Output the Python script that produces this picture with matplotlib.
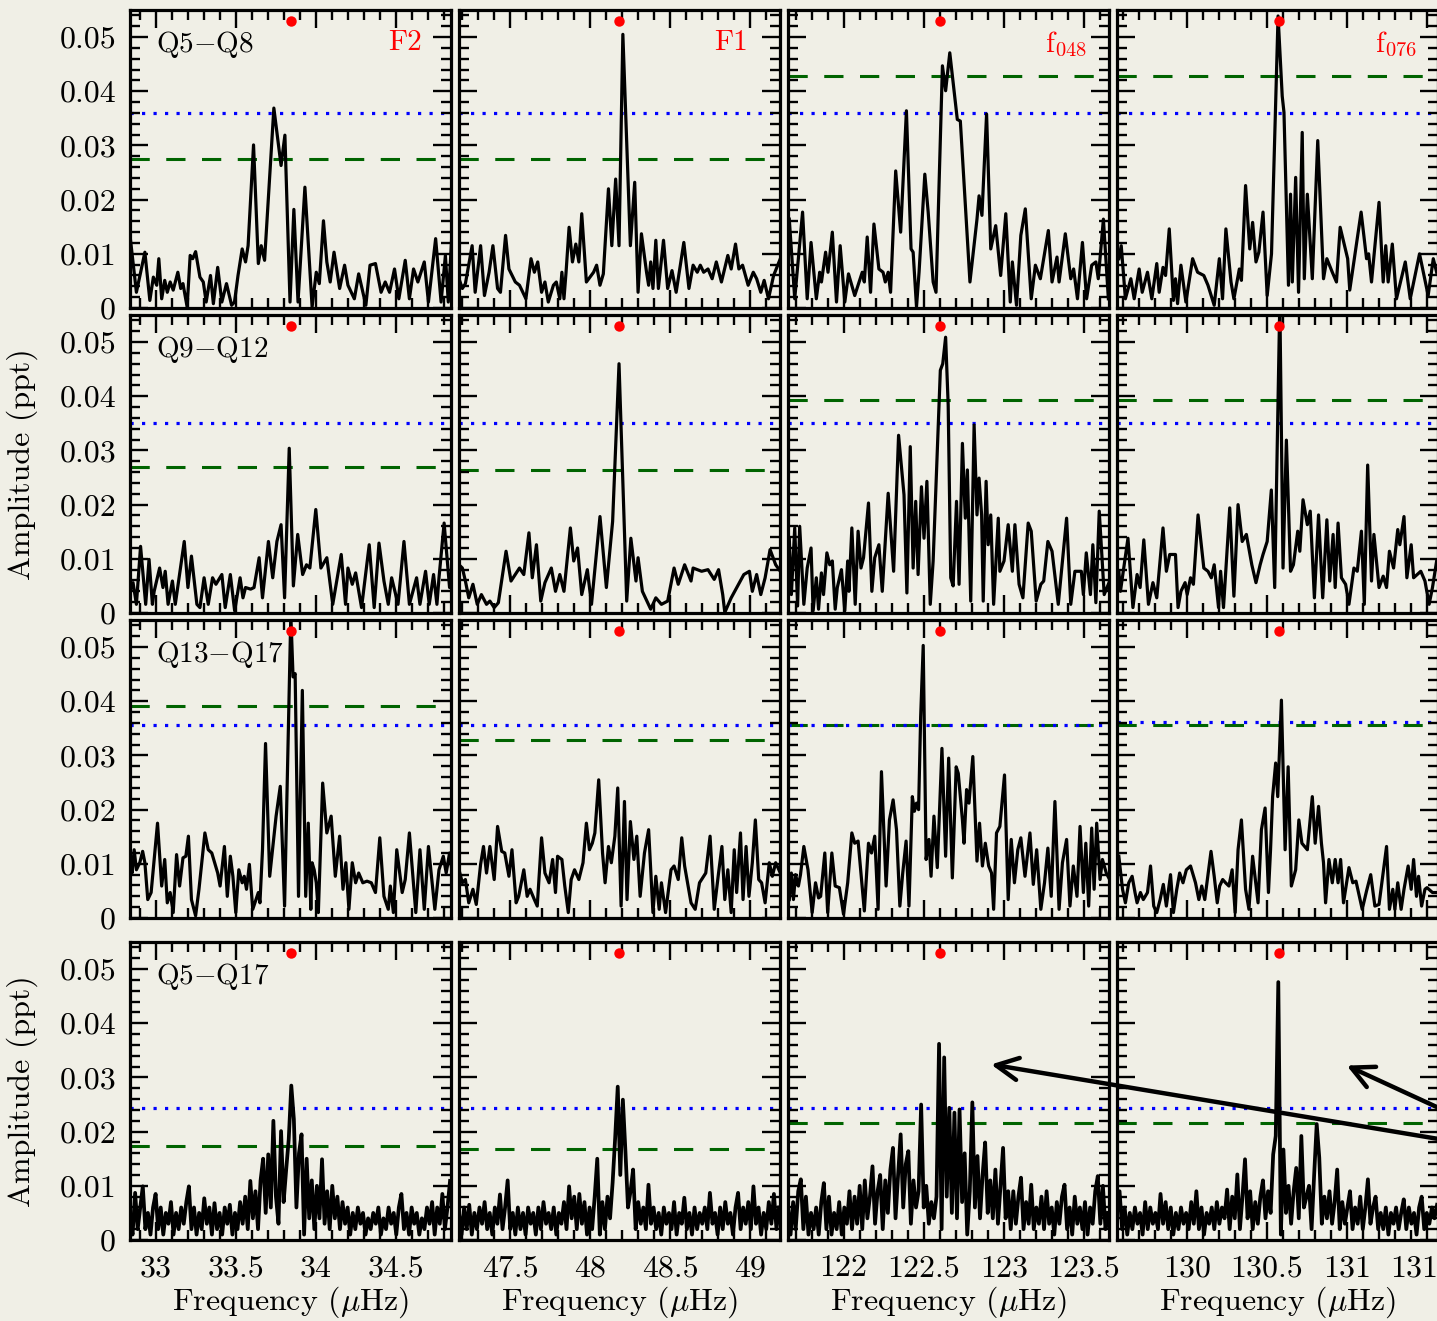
import numpy as np
import matplotlib
matplotlib.use("Agg")
import matplotlib.pyplot as plt
from matplotlib.ticker import MultipleLocator, FuncFormatter
from matplotlib.patches import ConnectionPatch

plt.rcParams.update({
    "font.family": "cmr10",
    "mathtext.fontset": "cm",
    "axes.unicode_minus": False,
    "axes.formatter.use_mathtext": True,
})

# ---------------------------------------------------------------- data
# amplitude spectra (frequency in microHz, amplitude in ppt) around each mode
F2_Q5Q8 = [(32.840, 0.0134), (32.880, 0.0029), (32.933, 0.0103), (32.964, 0.0014), (32.986, 0.0057),
           (33.007, 0.0042), (33.020, 0.0091), (33.038, 0.0017), (33.057, 0.0051), (33.073, 0.0029),
           (33.091, 0.0048), (33.110, 0.0033), (33.139, 0.0066), (33.157, 0.0036), (33.171, 0.0045),
           (33.197, 0.0002), (33.216, 0.0097), (33.232, 0.0091), (33.250, 0.0104), (33.277, 0.0057),
           (33.298, 0.0048), (33.316, 0.0011), (33.343, 0.0060), (33.361, 0.0008), (33.388, 0.0075),
           (33.414, 0.0011), (33.443, 0.0045), (33.475, 0.0005), (33.493, 0.0011), (33.515, 0.0060),
           (33.541, 0.0109), (33.562, 0.0085), (33.578, 0.0115), (33.612, 0.0301), (33.642, 0.0082),
           (33.660, 0.0115), (33.681, 0.0088), (33.739, 0.0369), (33.784, 0.0263), (33.808, 0.0319),
           (33.840, 0.0011), (33.864, 0.0182), (33.890, 0.0011), (33.933, 0.0223), (33.978, 0.0002),
           (34.004, 0.0066), (34.023, 0.0045), (34.049, 0.0161), (34.070, 0.0085), (34.091, 0.0048),
           (34.115, 0.0103), (34.150, 0.0036), (34.181, 0.0079), (34.202, 0.0042), (34.242, 0.0017),
           (34.269, 0.0063), (34.314, 0.0005), (34.340, 0.0079), (34.374, 0.0082), (34.409, 0.0029),
           (34.435, 0.0048), (34.462, 0.0029), (34.493, 0.0072), (34.520, 0.0017), (34.560, 0.0088),
           (34.586, 0.0017), (34.612, 0.0072), (34.639, 0.0048), (34.679, 0.0085), (34.705, 0.0011),
           (34.750, 0.0128), (34.784, 0.0011), (34.811, 0.0097), (34.829, 0.0011), (34.851, 0.0134)]

F1_Q5Q8 = [(47.180, 0.0054), (47.201, 0.0036), (47.220, 0.0045), (47.262, 0.0115), (47.281, 0.0029),
           (47.315, 0.0115), (47.339, 0.0023), (47.368, 0.0066), (47.392, 0.0115), (47.421, 0.0036),
           (47.439, 0.0029), (47.471, 0.0134), (47.492, 0.0072), (47.532, 0.0048), (47.558, 0.0042),
           (47.579, 0.0029), (47.598, 0.0017), (47.630, 0.0091), (47.651, 0.0066), (47.672, 0.0085),
           (47.696, 0.0029), (47.717, 0.0048), (47.738, 0.0011), (47.770, 0.0042), (47.788, 0.0048),
           (47.810, 0.0017), (47.823, 0.0066), (47.836, 0.0017), (47.849, 0.0066), (47.868, 0.0149),
           (47.889, 0.0085), (47.910, 0.0118), (47.929, 0.0085), (47.947, 0.0174), (47.976, 0.0048),
           (48.021, 0.0066), (48.040, 0.0079), (48.061, 0.0042), (48.082, 0.0063), (48.114, 0.0220),
           (48.135, 0.0115), (48.159, 0.0238), (48.180, 0.0115), (48.204, 0.0505), (48.251, 0.0115),
           (48.278, 0.0232), (48.299, 0.0029), (48.320, 0.0137), (48.352, 0.0066), (48.365, 0.0042),
           (48.378, 0.0085), (48.392, 0.0036), (48.410, 0.0125), (48.426, 0.0036), (48.458, 0.0125),
           (48.484, 0.0036), (48.511, 0.0069), (48.537, 0.0029), (48.585, 0.0121), (48.617, 0.0036),
           (48.643, 0.0079), (48.669, 0.0066), (48.688, 0.0079), (48.709, 0.0066), (48.736, 0.0072),
           (48.762, 0.0054), (48.788, 0.0085), (48.820, 0.0048), (48.860, 0.0097), (48.881, 0.0072),
           (48.908, 0.0118), (48.929, 0.0072), (48.952, 0.0079), (48.987, 0.0042), (49.019, 0.0066),
           (49.040, 0.0054), (49.066, 0.0029), (49.087, 0.0051), (49.114, 0.0017), (49.146, 0.0060),
           (49.188, 0.0091)]

F048_Q5Q8 = [(121.660, 0.0164), (121.694, 0.0017), (121.743, 0.0177), (121.772, 0.0017), (121.796, 0.0121),
             (121.829, 0.0017), (121.850, 0.0066), (121.861, 0.0048), (121.887, 0.0103), (121.902, 0.0066),
             (121.929, 0.0140), (121.955, 0.0011), (121.978, 0.0115), (122.007, 0.0011), (122.030, 0.0063),
             (122.069, 0.0023), (122.116, 0.0066), (122.129, 0.0048), (122.147, 0.0131), (122.168, 0.0029),
             (122.189, 0.0155), (122.220, 0.0072), (122.246, 0.0066), (122.260, 0.0048), (122.278, 0.0066),
             (122.293, 0.0029), (122.325, 0.0253), (122.356, 0.0140), (122.392, 0.0364), (122.421, 0.0109),
             (122.434, 0.0103), (122.455, 0.0002), (122.471, 0.0066), (122.507, 0.0247), (122.528, 0.0177),
             (122.559, 0.0048), (122.577, 0.0029), (122.617, 0.0447), (122.637, 0.0401), (122.663, 0.0471),
             (122.710, 0.0348), (122.729, 0.0345), (122.789, 0.0048), (122.833, 0.0164), (122.846, 0.0207),
             (122.864, 0.0171), (122.893, 0.0358), (122.919, 0.0109), (122.950, 0.0152), (122.981, 0.0060),
             (123.013, 0.0174), (123.041, 0.0011), (123.054, 0.0085), (123.080, 0.0005), (123.107, 0.0134),
             (123.135, 0.0183), (123.172, 0.0017), (123.198, 0.0079), (123.229, 0.0054), (123.279, 0.0143),
             (123.302, 0.0048), (123.333, 0.0094), (123.346, 0.0048), (123.385, 0.0137), (123.419, 0.0054),
             (123.437, 0.0072), (123.461, 0.0017), (123.492, 0.0121), (123.518, 0.0017), (123.550, 0.0079),
             (123.576, 0.0085), (123.591, 0.0054), (123.623, 0.0164), (123.654, 0.0017)]

F076_Q5Q8 = [(129.574, 0.0091), (129.589, 0.0115), (129.615, 0.0017), (129.649, 0.0054), (129.670, 0.0017),
             (129.701, 0.0072), (129.720, 0.0029), (129.753, 0.0066), (129.780, 0.0017), (129.811, 0.0082),
             (129.826, 0.0029), (129.850, 0.0075), (129.866, 0.0060), (129.889, 0.0146), (129.915, 0.0014),
             (129.928, 0.0054), (129.941, 0.0008), (129.962, 0.0079), (129.993, 0.0011), (130.035, 0.0091),
             (130.066, 0.0066), (130.105, 0.0060), (130.131, 0.0042), (130.170, 0.0005), (130.202, 0.0091),
             (130.222, 0.0017), (130.243, 0.0146), (130.275, 0.0048), (130.293, 0.0017), (130.327, 0.0072),
             (130.340, 0.0051), (130.366, 0.0226), (130.392, 0.0109), (130.410, 0.0158), (130.431, 0.0085),
             (130.449, 0.0103), (130.475, 0.0177), (130.501, 0.0023), (130.528, 0.0100), (130.569, 0.0539),
             (130.595, 0.0391), (130.606, 0.0361), (130.634, 0.0042), (130.647, 0.0210), (130.658, 0.0048),
             (130.679, 0.0241), (130.697, 0.0029), (130.720, 0.0324), (130.733, 0.0054), (130.752, 0.0210),
             (130.783, 0.0054), (130.817, 0.0309), (130.853, 0.0054), (130.874, 0.0091), (130.908, 0.0066),
             (130.934, 0.0048), (130.957, 0.0149), (131.004, 0.0091), (131.017, 0.0033), (131.088, 0.0177),
             (131.122, 0.0091), (131.135, 0.0100), (131.153, 0.0048), (131.200, 0.0195), (131.226, 0.0048),
             (131.242, 0.0115), (131.257, 0.0048), (131.283, 0.0118), (131.309, 0.0017), (131.364, 0.0085),
             (131.395, 0.0017), (131.453, 0.0100), (131.507, 0.0023), (131.539, 0.0091), (131.560, 0.0066)]

F2_Q9Q12 = [(32.840, 0.0040), (32.859, 0.0056), (32.880, 0.0016), (32.906, 0.0123), (32.938, 0.0016),
            (32.959, 0.0099), (32.980, 0.0016), (32.991, 0.0040), (33.025, 0.0083), (33.046, 0.0047),
            (33.060, 0.0077), (33.078, 0.0016), (33.105, 0.0059), (33.123, 0.0016), (33.179, 0.0132),
            (33.202, 0.0047), (33.224, 0.0105), (33.258, 0.0016), (33.277, 0.0010), (33.303, 0.0065),
            (33.329, 0.0016), (33.356, 0.0065), (33.377, 0.0053), (33.414, 0.0071), (33.435, 0.0010),
            (33.467, 0.0071), (33.494, 0.0004), (33.528, 0.0065), (33.546, 0.0028), (33.562, 0.0047),
            (33.594, 0.0044), (33.615, 0.0047), (33.647, 0.0102), (33.668, 0.0028), (33.705, 0.0132),
            (33.732, 0.0065), (33.758, 0.0132), (33.784, 0.0163), (33.806, 0.0028), (33.835, 0.0304),
            (33.861, 0.0050), (33.888, 0.0145), (33.919, 0.0071), (33.943, 0.0089), (33.964, 0.0083),
            (34.001, 0.0191), (34.033, 0.0083), (34.070, 0.0102), (34.107, 0.0016), (34.160, 0.0108),
            (34.187, 0.0016), (34.202, 0.0083), (34.229, 0.0053), (34.250, 0.0074), (34.287, 0.0010),
            (34.335, 0.0126), (34.366, 0.0010), (34.396, 0.0129), (34.427, 0.0059), (34.454, 0.0016),
            (34.475, 0.0065), (34.515, 0.0016), (34.552, 0.0132), (34.586, 0.0016), (34.631, 0.0065),
            (34.652, 0.0016), (34.687, 0.0077), (34.710, 0.0016), (34.737, 0.0071), (34.758, 0.0016),
            (34.771, 0.0065), (34.803, 0.0166), (34.837, 0.0047), (34.851, 0.0077)]

F1_Q9Q12 = [(47.180, 0.0089), (47.201, 0.0083), (47.220, 0.0059), (47.241, 0.0028), (47.267, 0.0053),
            (47.294, 0.0016), (47.320, 0.0034), (47.352, 0.0016), (47.373, 0.0022), (47.400, 0.0010),
            (47.426, 0.0019), (47.474, 0.0114), (47.505, 0.0059), (47.558, 0.0083), (47.585, 0.0071),
            (47.617, 0.0148), (47.638, 0.0065), (47.664, 0.0126), (47.691, 0.0022), (47.717, 0.0056),
            (47.757, 0.0083), (47.783, 0.0040), (47.810, 0.0071), (47.836, 0.0040), (47.876, 0.0157),
            (47.897, 0.0096), (47.921, 0.0120), (47.947, 0.0034), (47.982, 0.0080), (48.008, 0.0016),
            (48.061, 0.0178), (48.101, 0.0047), (48.140, 0.0169), (48.180, 0.0460), (48.228, 0.0022),
            (48.254, 0.0138), (48.286, 0.0059), (48.299, 0.0102), (48.326, 0.0040), (48.378, 0.0007),
            (48.410, 0.0028), (48.445, 0.0016), (48.484, 0.0022), (48.524, 0.0083), (48.550, 0.0053),
            (48.590, 0.0089), (48.630, 0.0059), (48.643, 0.0083), (48.696, 0.0077), (48.736, 0.0080),
            (48.775, 0.0062), (48.802, 0.0080), (48.828, 0.0034), (48.841, 0.0001), (48.881, 0.0028),
            (48.960, 0.0071), (48.995, 0.0077), (49.013, 0.0040), (49.040, 0.0071), (49.066, 0.0034),
            (49.093, 0.0065), (49.124, 0.0117), (49.159, 0.0089), (49.188, 0.0077)]

F048_Q9Q12 = [(121.660, 0.0138), (121.673, 0.0034), (121.694, 0.0157), (121.712, 0.0013), (121.725, 0.0160),
              (121.751, 0.0016), (121.772, 0.0083), (121.796, 0.0120), (121.809, 0.0004), (121.829, 0.0065),
              (121.843, 0.0007), (121.861, 0.0074), (121.874, 0.0034), (121.895, 0.0111), (121.913, 0.0089),
              (121.929, 0.0096), (121.947, 0.0007), (121.960, 0.0047), (121.986, 0.0080), (122.007, 0.0004),
              (122.025, 0.0096), (122.033, 0.0040), (122.051, 0.0157), (122.072, 0.0016), (122.090, 0.0151),
              (122.108, 0.0083), (122.124, 0.0102), (122.155, 0.0203), (122.176, 0.0040), (122.194, 0.0102),
              (122.220, 0.0126), (122.241, 0.0040), (122.278, 0.0221), (122.312, 0.0077), (122.343, 0.0328),
              (122.377, 0.0218), (122.395, 0.0037), (122.416, 0.0307), (122.434, 0.0083), (122.450, 0.0206),
              (122.465, 0.0071), (122.486, 0.0233), (122.502, 0.0138), (122.520, 0.0243), (122.541, 0.0016),
              (122.559, 0.0096), (122.604, 0.0448), (122.619, 0.0460), (122.637, 0.0509), (122.653, 0.0384),
              (122.669, 0.0065), (122.684, 0.0050), (122.705, 0.0206), (122.721, 0.0053), (122.742, 0.0313),
              (122.760, 0.0175), (122.773, 0.0264), (122.794, 0.0022), (122.815, 0.0347), (122.833, 0.0181),
              (122.846, 0.0249), (122.862, 0.0181), (122.872, 0.0022), (122.890, 0.0243), (122.903, 0.0126),
              (122.919, 0.0181), (122.937, 0.0016), (122.966, 0.0175), (122.976, 0.0077), (123.002, 0.0096),
              (123.028, 0.0163), (123.054, 0.0077), (123.070, 0.0163), (123.096, 0.0053), (123.120, 0.0028),
              (123.153, 0.0166), (123.172, 0.0151), (123.203, 0.0022), (123.232, 0.0053), (123.250, 0.0059),
              (123.276, 0.0132), (123.302, 0.0114), (123.341, 0.0016), (123.393, 0.0175), (123.419, 0.0016),
              (123.445, 0.0077), (123.485, 0.0077), (123.498, 0.0034), (123.516, 0.0111), (123.542, 0.0034),
              (123.557, 0.0126), (123.576, 0.0019), (123.597, 0.0188), (123.628, 0.0034), (123.662, 0.0059)]

F076_Q9Q12 = [(129.574, 0.0077), (129.584, 0.0040), (129.631, 0.0138), (129.662, 0.0010), (129.688, 0.0071),
              (129.707, 0.0047), (129.730, 0.0135), (129.759, 0.0016), (129.787, 0.0056), (129.811, 0.0028),
              (129.850, 0.0157), (129.871, 0.0077), (129.892, 0.0108), (129.928, 0.0108), (129.944, 0.0010),
              (129.962, 0.0040), (129.988, 0.0056), (130.001, 0.0034), (130.022, 0.0065), (130.040, 0.0053),
              (130.069, 0.0181), (130.105, 0.0083), (130.131, 0.0077), (130.152, 0.0065), (130.170, 0.0089),
              (130.197, 0.0010), (130.210, 0.0077), (130.228, 0.0010), (130.267, 0.0194), (130.293, 0.0031),
              (130.319, 0.0200), (130.345, 0.0132), (130.371, 0.0145), (130.405, 0.0089), (130.431, 0.0056),
              (130.457, 0.0089), (130.475, 0.0108), (130.501, 0.0132), (130.527, 0.0227), (130.548, 0.0047),
              (130.580, 0.0575), (130.600, 0.0083), (130.621, 0.0319), (130.647, 0.0077), (130.665, 0.0089),
              (130.692, 0.0151), (130.705, 0.0114), (130.725, 0.0209), (130.752, 0.0163), (130.770, 0.0188),
              (130.796, 0.0028), (130.822, 0.0181), (130.848, 0.0028), (130.874, 0.0172), (130.892, 0.0059),
              (130.913, 0.0145), (130.926, 0.0047), (130.944, 0.0166), (130.965, 0.0065), (130.991, 0.0053),
              (131.012, 0.0016), (131.043, 0.0083), (131.064, 0.0077), (131.090, 0.0151), (131.108, 0.0016),
              (131.129, 0.0273), (131.153, 0.0059), (131.168, 0.0145), (131.200, 0.0047), (131.226, 0.0068),
              (131.247, 0.0047), (131.265, 0.0114), (131.291, 0.0083), (131.317, 0.0154), (131.330, 0.0126),
              (131.356, 0.0178), (131.374, 0.0065), (131.401, 0.0126), (131.416, 0.0065), (131.461, 0.0077),
              (131.487, 0.0059), (131.513, 0.0016), (131.534, 0.0047), (131.560, 0.0096)]

F2_Q13Q17 = [(32.840, 0.0102), (32.853, 0.0083), (32.866, 0.0126), (32.880, 0.0089), (32.901, 0.0102),
             (32.919, 0.0123), (32.933, 0.0102), (32.951, 0.0034), (32.972, 0.0047), (33.012, 0.0175),
             (33.038, 0.0059), (33.057, 0.0108), (33.073, 0.0028), (33.091, 0.0047), (33.110, 0.0010),
             (33.131, 0.0117), (33.150, 0.0059), (33.171, 0.0111), (33.189, 0.0114), (33.205, 0.0151),
             (33.224, 0.0034), (33.250, 0.0004), (33.271, 0.0053), (33.308, 0.0157), (33.329, 0.0126),
             (33.351, 0.0120), (33.369, 0.0102), (33.388, 0.0083), (33.403, 0.0059), (33.430, 0.0132),
             (33.448, 0.0040), (33.467, 0.0114), (33.483, 0.0077), (33.501, 0.0010), (33.520, 0.0089),
             (33.541, 0.0065), (33.554, 0.0077), (33.568, 0.0053), (33.586, 0.0099), (33.607, 0.0016),
             (33.642, 0.0047), (33.652, 0.0028), (33.668, 0.0126), (33.687, 0.0322), (33.713, 0.0077),
             (33.753, 0.0188), (33.779, 0.0243), (33.806, 0.0022), (33.845, 0.0560), (33.859, 0.0445),
             (33.872, 0.0451), (33.893, 0.0040), (33.917, 0.0420), (33.938, 0.0040), (33.954, 0.0175),
             (33.970, 0.0016), (33.978, 0.0102), (33.991, 0.0089), (34.004, 0.0065), (34.017, 0.0010),
             (34.044, 0.0249), (34.070, 0.0157), (34.097, 0.0188), (34.123, 0.0077), (34.150, 0.0151),
             (34.171, 0.0053), (34.189, 0.0102), (34.208, 0.0016), (34.229, 0.0102), (34.250, 0.0065),
             (34.269, 0.0083), (34.295, 0.0065), (34.321, 0.0068), (34.348, 0.0065), (34.374, 0.0047),
             (34.401, 0.0148), (34.427, 0.0040), (34.454, 0.0016), (34.467, 0.0059), (34.486, 0.0010),
             (34.507, 0.0126), (34.541, 0.0047), (34.560, 0.0071), (34.586, 0.0157), (34.626, 0.0010),
             (34.652, 0.0126), (34.679, 0.0016), (34.705, 0.0132), (34.745, 0.0016), (34.771, 0.0089),
             (34.798, 0.0114), (34.816, 0.0083), (34.837, 0.0120), (34.851, 0.0089)]

F1_Q13Q17 = [(47.180, 0.0089), (47.201, 0.0065), (47.220, 0.0071), (47.241, 0.0028), (47.267, 0.0053),
             (47.288, 0.0025), (47.315, 0.0099), (47.333, 0.0132), (47.352, 0.0083), (47.373, 0.0132),
             (47.400, 0.0071), (47.421, 0.0169), (47.447, 0.0123), (47.466, 0.0120), (47.492, 0.0077),
             (47.511, 0.0126), (47.537, 0.0028), (47.553, 0.0040), (47.585, 0.0089), (47.606, 0.0040),
             (47.624, 0.0053), (47.651, 0.0034), (47.669, 0.0022), (47.696, 0.0148), (47.717, 0.0083),
             (47.743, 0.0065), (47.765, 0.0108), (47.783, 0.0047), (47.796, 0.0114), (47.823, 0.0108),
             (47.841, 0.0059), (47.863, 0.0010), (47.881, 0.0071), (47.902, 0.0089), (47.929, 0.0071),
             (47.955, 0.0102), (47.976, 0.0175), (47.995, 0.0126), (48.013, 0.0138), (48.029, 0.0157),
             (48.053, 0.0255), (48.077, 0.0120), (48.093, 0.0065), (48.114, 0.0132), (48.132, 0.0102),
             (48.154, 0.0151), (48.172, 0.0240), (48.193, 0.0022), (48.214, 0.0215), (48.230, 0.0034),
             (48.251, 0.0178), (48.273, 0.0108), (48.291, 0.0151), (48.312, 0.0040), (48.339, 0.0120),
             (48.365, 0.0163), (48.392, 0.0010), (48.410, 0.0077), (48.431, 0.0016), (48.445, 0.0065),
             (48.471, 0.0010), (48.505, 0.0089), (48.524, 0.0096), (48.550, 0.0071), (48.572, 0.0148),
             (48.590, 0.0096), (48.630, 0.0028), (48.656, 0.0016), (48.683, 0.0065), (48.722, 0.0083),
             (48.749, 0.0151), (48.775, 0.0016), (48.802, 0.0083), (48.823, 0.0132), (48.841, 0.0034),
             (48.860, 0.0089), (48.881, 0.0010), (48.900, 0.0126), (48.915, 0.0047), (48.939, 0.0157),
             (48.955, 0.0034), (48.974, 0.0132), (48.992, 0.0040), (49.013, 0.0102), (49.032, 0.0181),
             (49.053, 0.0071), (49.071, 0.0065), (49.093, 0.0028), (49.119, 0.0102), (49.138, 0.0077),
             (49.159, 0.0102), (49.188, 0.0083)]

F048_Q13Q17 = [(121.660, 0.0034), (121.673, 0.0083), (121.686, 0.0034), (121.699, 0.0080), (121.717, 0.0059),
               (121.730, 0.0080), (121.751, 0.0132), (121.777, 0.0089), (121.803, 0.0010), (121.824, 0.0065),
               (121.843, 0.0037), (121.856, 0.0040), (121.882, 0.0120), (121.900, 0.0010), (121.926, 0.0120),
               (121.947, 0.0059), (121.973, 0.0056), (121.999, 0.0007), (122.025, 0.0065), (122.051, 0.0157),
               (122.069, 0.0138), (122.090, 0.0142), (122.129, 0.0013), (122.155, 0.0138), (122.174, 0.0120),
               (122.194, 0.0151), (122.215, 0.0016), (122.236, 0.0270), (122.265, 0.0059), (122.286, 0.0181),
               (122.309, 0.0218), (122.330, 0.0163), (122.351, 0.0022), (122.369, 0.0083), (122.390, 0.0142),
               (122.408, 0.0022), (122.429, 0.0224), (122.442, 0.0197), (122.455, 0.0212), (122.468, 0.0200),
               (122.481, 0.0371), (122.497, 0.0503), (122.515, 0.0108), (122.533, 0.0145), (122.546, 0.0077),
               (122.564, 0.0188), (122.585, 0.0093), (122.614, 0.0313), (122.637, 0.0114), (122.656, 0.0295),
               (122.679, 0.0074), (122.703, 0.0279), (122.716, 0.0267), (122.742, 0.0181), (122.752, 0.0138),
               (122.768, 0.0237), (122.783, 0.0212), (122.807, 0.0298), (122.833, 0.0105), (122.849, 0.0175),
               (122.867, 0.0096), (122.885, 0.0138), (122.906, 0.0096), (122.924, 0.0083), (122.937, 0.0016),
               (122.955, 0.0157), (122.976, 0.0169), (123.005, 0.0264), (123.028, 0.0034), (123.047, 0.0145),
               (123.067, 0.0065), (123.088, 0.0126), (123.107, 0.0148), (123.133, 0.0077), (123.164, 0.0157),
               (123.185, 0.0062), (123.206, 0.0126), (123.232, 0.0016), (123.255, 0.0065), (123.276, 0.0129),
               (123.297, 0.0040), (123.320, 0.0215), (123.346, 0.0016), (123.367, 0.0102), (123.393, 0.0145),
               (123.414, 0.0022), (123.435, 0.0096), (123.458, 0.0040), (123.477, 0.0169), (123.498, 0.0047),
               (123.513, 0.0138), (123.531, 0.0022), (123.550, 0.0166), (123.565, 0.0053), (123.581, 0.0175),
               (123.602, 0.0071), (123.617, 0.0108), (123.641, 0.0083), (123.662, 0.0071)]

F076_Q13Q17 = [(129.574, 0.0114), (129.597, 0.0053), (129.615, 0.0028), (129.636, 0.0065), (129.657, 0.0077),
               (129.675, 0.0047), (129.688, 0.0028), (129.709, 0.0047), (129.727, 0.0034), (129.753, 0.0047),
               (129.772, 0.0096), (129.792, 0.0022), (129.811, 0.0010), (129.832, 0.0034), (129.852, 0.0062),
               (129.871, 0.0022), (129.897, 0.0080), (129.915, 0.0010), (129.936, 0.0053), (129.954, 0.0083),
               (129.975, 0.0065), (129.996, 0.0089), (130.022, 0.0096), (130.053, 0.0065), (130.074, 0.0034),
               (130.092, 0.0059), (130.111, 0.0034), (130.150, 0.0123), (130.170, 0.0077), (130.189, 0.0028),
               (130.204, 0.0059), (130.223, 0.0071), (130.241, 0.0065), (130.262, 0.0059), (130.282, 0.0089),
               (130.301, 0.0010), (130.319, 0.0126), (130.340, 0.0181), (130.366, 0.0053), (130.387, 0.0016),
               (130.410, 0.0114), (130.444, 0.0028), (130.465, 0.0163), (130.488, 0.0203), (130.509, 0.0047),
               (130.522, 0.0126), (130.535, 0.0224), (130.554, 0.0286), (130.567, 0.0224), (130.590, 0.0402),
               (130.613, 0.0126), (130.632, 0.0279), (130.652, 0.0059), (130.679, 0.0089), (130.699, 0.0181),
               (130.718, 0.0138), (130.752, 0.0126), (130.783, 0.0224), (130.801, 0.0138), (130.822, 0.0206),
               (130.840, 0.0138), (130.853, 0.0102), (130.866, 0.0028), (130.887, 0.0108), (130.908, 0.0065),
               (130.926, 0.0108), (130.944, 0.0065), (130.960, 0.0108), (130.978, 0.0028), (131.012, 0.0093),
               (131.036, 0.0065), (131.056, 0.0068), (131.095, 0.0016), (131.122, 0.0050), (131.148, 0.0080),
               (131.174, 0.0022), (131.200, 0.0025), (131.247, 0.0132), (131.265, 0.0016), (131.286, 0.0053),
               (131.299, 0.0016), (131.317, 0.0065), (131.338, 0.0016), (131.356, 0.0053), (131.382, 0.0096),
               (131.401, 0.0053), (131.416, 0.0108), (131.434, 0.0040), (131.447, 0.0077), (131.466, 0.0022),
               (131.487, 0.0053), (131.500, 0.0056), (131.534, 0.0047), (131.560, 0.0047)]

# full Q5-Q17 spectra: amplitudes on a uniform frequency grid spanning each range
F2_Q5Q17_RANGE = (32.84, 34.84)
F2_Q5Q17_AMP = [0.004, 0.001, 0.0087, 0.002, 0.006, 0.0099, 0.002, 0.005, 0.001, 0.006,
                0.0085, 0.002, 0.006, 0.001, 0.005, 0.003, 0.007, 0.001, 0.005, 0.002,
                0.006, 0.003, 0.007, 0.0099, 0.002, 0.006, 0.001, 0.005, 0.002, 0.0077,
                0.003, 0.006, 0.001, 0.0068, 0.002, 0.005, 0.001, 0.006, 0.003, 0.0065,
                0.001, 0.005, 0.002, 0.007, 0.003, 0.008, 0.002, 0.0109, 0.004, 0.009,
                0.002, 0.011, 0.015, 0.005, 0.0158, 0.006, 0.022, 0.008, 0.003, 0.0201,
                0.007, 0.013, 0.0186, 0.0285, 0.0223, 0.006, 0.016, 0.0195, 0.001, 0.015,
                0.004, 0.011, 0.002, 0.010, 0.004, 0.0149, 0.003, 0.009, 0.002, 0.010,
                0.004, 0.008, 0.002, 0.007, 0.003, 0.006, 0.001, 0.005, 0.002, 0.006,
                0.003, 0.005, 0.001, 0.004, 0.002, 0.005, 0.003, 0.006, 0.001, 0.004,
                0.002, 0.006, 0.003, 0.005, 0.001, 0.006, 0.0085, 0.002, 0.005, 0.001,
                0.006, 0.003, 0.005, 0.001, 0.004, 0.002, 0.006, 0.003, 0.007, 0.001,
                0.006, 0.003, 0.0085, 0.002, 0.006, 0.0109]

F1_Q5Q17_RANGE = (47.18, 49.18)
F1_Q5Q17_AMP = [0.005, 0.001, 0.006, 0.002, 0.0065, 0.001, 0.005, 0.002, 0.006, 0.003,
                0.007, 0.002, 0.005, 0.001, 0.006, 0.003, 0.0084, 0.002, 0.006, 0.011,
                0.002, 0.005, 0.001, 0.006, 0.002, 0.005, 0.001, 0.006, 0.003, 0.005,
                0.001, 0.006, 0.002, 0.007, 0.003, 0.005, 0.002, 0.006, 0.001, 0.005,
                0.003, 0.007, 0.002, 0.0099, 0.004, 0.008, 0.002, 0.0085, 0.003, 0.007,
                0.001, 0.006, 0.002, 0.008, 0.015, 0.001, 0.007, 0.002, 0.008, 0.004,
                0.0106, 0.0189, 0.0283, 0.012, 0.0259, 0.0164, 0.006, 0.009, 0.013, 0.002,
                0.007, 0.003, 0.006, 0.002, 0.0102, 0.003, 0.006, 0.002, 0.005, 0.001,
                0.006, 0.003, 0.005, 0.002, 0.007, 0.001, 0.005, 0.003, 0.0078, 0.002,
                0.005, 0.001, 0.006, 0.002, 0.005, 0.003, 0.006, 0.002, 0.0087, 0.003,
                0.005, 0.001, 0.006, 0.002, 0.007, 0.003, 0.005, 0.001, 0.006, 0.0087,
                0.002, 0.006, 0.003, 0.007, 0.002, 0.0099, 0.003, 0.006, 0.001, 0.005,
                0.002, 0.007, 0.003, 0.0085, 0.002, 0.006]

F048_Q5Q17_RANGE = (121.652, 123.652)
F048_Q5Q17_AMP = [0.006, 0.001, 0.007, 0.002, 0.009, 0.0112, 0.002, 0.008, 0.001, 0.005,
                  0.002, 0.006, 0.001, 0.007, 0.0105, 0.002, 0.008, 0.001, 0.005, 0.002,
                  0.007, 0.001, 0.006, 0.003, 0.009, 0.002, 0.008, 0.003, 0.010, 0.002,
                  0.011, 0.004, 0.008, 0.0136, 0.003, 0.009, 0.012, 0.002, 0.011, 0.005,
                  0.013, 0.017, 0.004, 0.012, 0.0195, 0.006, 0.014, 0.0164, 0.003, 0.011,
                  0.006, 0.009, 0.025, 0.006, 0.010, 0.003, 0.007, 0.004, 0.008, 0.0362,
                  0.002, 0.0337, 0.008, 0.0244, 0.005, 0.0235, 0.004, 0.0241, 0.007, 0.016,
                  0.001, 0.009, 0.0254, 0.006, 0.0155, 0.004, 0.012, 0.018, 0.005, 0.011,
                  0.004, 0.013, 0.003, 0.010, 0.017, 0.004, 0.009, 0.002, 0.009, 0.003,
                  0.008, 0.0115, 0.002, 0.007, 0.003, 0.0102, 0.002, 0.006, 0.003, 0.008,
                  0.002, 0.009, 0.003, 0.006, 0.001, 0.007, 0.003, 0.008, 0.0102, 0.002,
                  0.006, 0.001, 0.008, 0.003, 0.006, 0.002, 0.007, 0.001, 0.006, 0.003,
                  0.009, 0.0118, 0.003, 0.010, 0.002, 0.005]

F076_Q5Q17_RANGE = (129.5625, 131.5625)
F076_Q5Q17_AMP = [0.005, 0.009, 0.002, 0.006, 0.001, 0.005, 0.002, 0.006, 0.003, 0.005,
                  0.001, 0.007, 0.002, 0.006, 0.003, 0.005, 0.002, 0.0085, 0.003, 0.007,
                  0.002, 0.006, 0.001, 0.005, 0.002, 0.006, 0.003, 0.005, 0.002, 0.007,
                  0.003, 0.009, 0.002, 0.006, 0.001, 0.005, 0.003, 0.006, 0.002, 0.007,
                  0.003, 0.006, 0.004, 0.0093, 0.002, 0.008, 0.004, 0.0121, 0.002, 0.008,
                  0.0149, 0.004, 0.009, 0.002, 0.007, 0.003, 0.008, 0.011, 0.004, 0.009,
                  0.005, 0.0158, 0.0192, 0.0476, 0.001, 0.0167, 0.005, 0.010, 0.003, 0.009,
                  0.0133, 0.004, 0.0192, 0.006, 0.008, 0.010, 0.002, 0.012, 0.0214, 0.0152,
                  0.003, 0.008, 0.004, 0.009, 0.003, 0.007, 0.013, 0.002, 0.007, 0.003,
                  0.006, 0.009, 0.002, 0.006, 0.003, 0.008, 0.002, 0.006, 0.0112, 0.003,
                  0.006, 0.008, 0.002, 0.005, 0.002, 0.006, 0.001, 0.005, 0.003, 0.006,
                  0.002, 0.005, 0.0075, 0.002, 0.006, 0.003, 0.005, 0.001, 0.006, 0.008,
                  0.002, 0.005, 0.003, 0.006, 0.004, 0.0065]

# data segments (rows) and modes (columns)
SEGMENTS = ["Q5$-$Q8", "Q9$-$Q12", "Q13$-$Q17", "Q5$-$Q17"]
MODE_LABELS = ["F2", "F1", r"$\mathrm{f}_{048}$", r"$\mathrm{f}_{076}$"]
MODE_FREQ = [33.846, 48.180, 122.600, 130.576]
MODE_MARK_AMP = 0.053

# significance levels per segment and mode
BLUE_LEVEL = [[0.0359, 0.0359, 0.0359, 0.0359],
              [0.0350, 0.0350, 0.0350, 0.0350],
              [0.0356, 0.0356, 0.0356, 0.0361],
              [0.0244, 0.0244, 0.0244, 0.0244]]
GREEN_LEVEL = [[0.0275, 0.0275, 0.0429, 0.0429],
               [0.0269, 0.0264, 0.0393, 0.0393],
               [0.0392, 0.0328, 0.0357, 0.0357],
               [0.0174, 0.0168, 0.0216, 0.0216]]

SPECTRA = [[F2_Q5Q8, F1_Q5Q8, F048_Q5Q8, F076_Q5Q8],
           [F2_Q9Q12, F1_Q9Q12, F048_Q9Q12, F076_Q9Q12],
           [F2_Q13Q17, F1_Q13Q17, F048_Q13Q17, F076_Q13Q17]]
FULL_AMP = [F2_Q5Q17_AMP, F1_Q5Q17_AMP, F048_Q5Q17_AMP, F076_Q5Q17_AMP]
FULL_RANGE = [F2_Q5Q17_RANGE, F1_Q5Q17_RANGE, F048_Q5Q17_RANGE, F076_Q5Q17_RANGE]

XLIMS = [(32.840, 34.846), (47.180, 49.186), (121.652, 123.658), (129.5625, 131.5685)]
YMAX = 0.055

# ---------------------------------------------------------------- layout
BG = "#f0efe6"
W, H = 1437, 1321
COL_LEFT = [130, 459, 788, 1117]
ROW_TOP = [10, 315, 620, 942]
PW, PH = 321, 298
FS_TICK = 23
FS_LABEL = 23
FS_TEXT = 21

fig = plt.figure(figsize=(W / 100, H / 100), dpi=100, facecolor=BG)

yfmt = FuncFormatter(lambda v, p: "0" if abs(v) < 1e-9 else f"{v:.2f}")
xfmt = FuncFormatter(lambda v, p: f"{v:g}")

axes = [[None] * 4 for _ in range(4)]
for r in range(4):
    for c in range(4):
        ax = fig.add_axes([COL_LEFT[c] / W, 1 - (ROW_TOP[r] + PH) / H, PW / W, PH / H])
        axes[r][c] = ax
        ax.set_facecolor(BG)

        if r < 3:
            f, a = np.array(SPECTRA[r][c]).T
            lw = 2.3
        else:
            a = np.array(FULL_AMP[c])
            f = np.linspace(FULL_RANGE[c][0], FULL_RANGE[c][1], len(a))
            lw = 2.7

        ax.axhline(GREEN_LEVEL[r][c], color="#006400", lw=2.2,
                   linestyle=(0, (6.3, 5.4)), zorder=1)
        ax.axhline(BLUE_LEVEL[r][c], color="#0000ff", lw=2.3,
                   linestyle=(0, (1, 2.6)), zorder=1.5)
        ax.plot(f, a, color="k", lw=lw, solid_joinstyle="round", zorder=2)
        ax.plot([MODE_FREQ[c]], [MODE_MARK_AMP], "o", color="#ff0000",
                ms=7.5, mec="none", zorder=4)

        ax.set_xlim(*XLIMS[c])
        ax.set_ylim(0, YMAX)
        ax.xaxis.set_major_locator(MultipleLocator(0.5))
        ax.xaxis.set_minor_locator(MultipleLocator(0.1))
        ax.yaxis.set_major_locator(MultipleLocator(0.01))
        ax.yaxis.set_minor_locator(MultipleLocator(0.002))
        ax.xaxis.set_major_formatter(xfmt)
        ax.yaxis.set_major_formatter(yfmt)
        ax.tick_params(which="both", direction="in", top=True, right=True,
                       width=1.7, color="k", labelsize=FS_TICK)
        ax.tick_params(which="major", length=13)
        ax.tick_params(which="minor", length=7)
        ax.tick_params(axis="y", pad=10)
        ax.tick_params(axis="x", pad=10.5)
        ax.tick_params(labelbottom=(r == 3), labelleft=(c == 0))
        for s in ax.spines.values():
            s.set_linewidth(2.3)

        if c == 0:
            ax.text(0.081, 0.935, SEGMENTS[r], transform=ax.transAxes,
                    ha="left", va="top", fontsize=FS_TEXT)
        if r == 0:
            xr = [0.91, 0.90, 0.93, 0.935][c]
            ax.text(xr, 0.935, MODE_LABELS[c], transform=ax.transAxes,
                    ha="right", va="top", fontsize=FS_TEXT, color="#ff0000")
        if r == 3:
            ax.set_xlabel(r"Frequency ($\mu$Hz)", fontsize=FS_LABEL)
            ax.xaxis.set_label_coords(0.5, -0.148)
        if c == 0 and r in (1, 3):
            ax.set_ylabel("Amplitude (ppt)", fontsize=FS_LABEL)
            ax.yaxis.set_label_coords(-0.287, 0.5)

# arrows pointing at the combined-data peaks
for ax, tip, tail in [(axes[3][2], (122.921, 0.0324), (1.0369, 0.1313)),
                      (axes[3][3], (130.998, 0.0322), (1.0299, 0.1469))]:
    con = ConnectionPatch(xyA=tail, coordsA="figure fraction",
                          xyB=tip, coordsB=ax.transData,
                          arrowstyle="->", lw=3.2, color="k",
                          mutation_scale=40, shrinkA=0, shrinkB=0, zorder=10)
    con.set_annotation_clip(False)
    fig.add_artist(con)

fig.savefig("out.png", dpi=100, facecolor=BG)
